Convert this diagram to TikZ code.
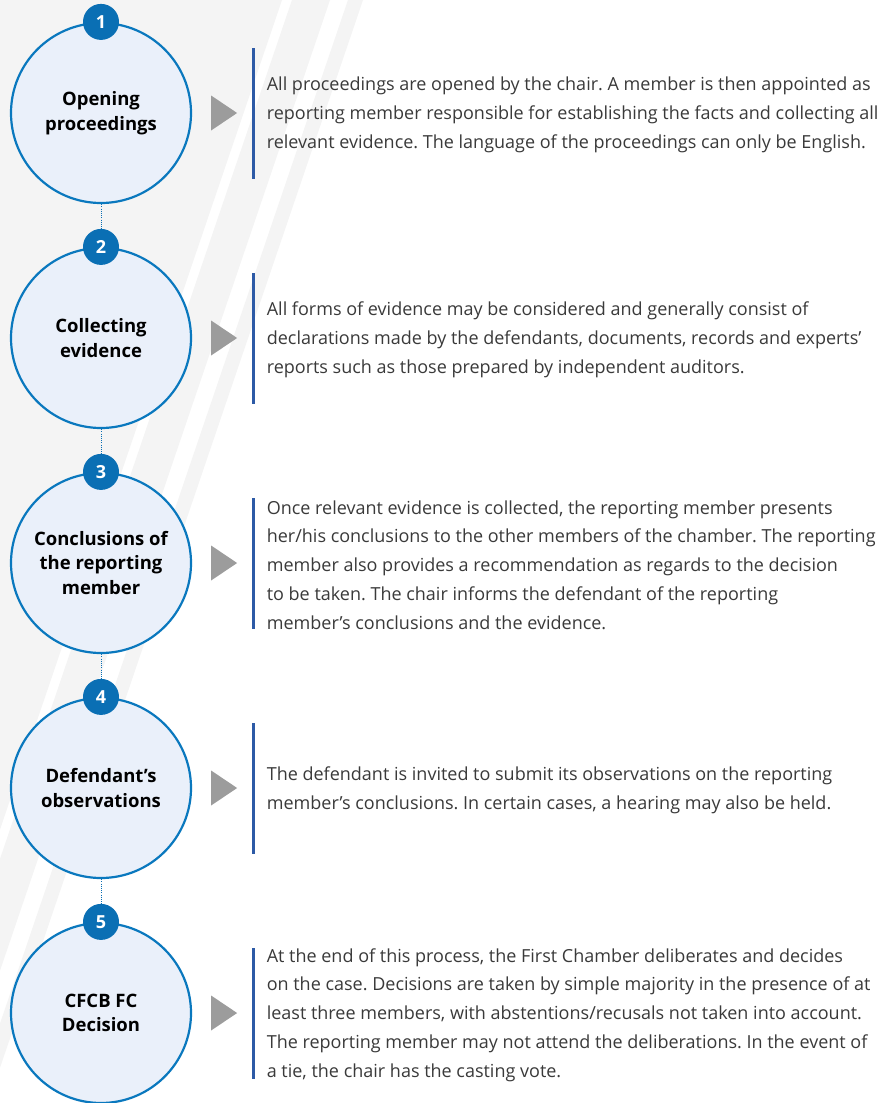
\documentclass[tikz,border=0pt]{standalone}
\usepackage{fontspec}
\setmainfont{Open Sans}
\frenchspacing
\usetikzlibrary{positioning}
\usetikzlibrary{shapes.geometric}
\definecolor{ringblue}{HTML}{0A78BE}
\definecolor{ringfill}{HTML}{EAF0FA}
\definecolor{badgeblue}{HTML}{0A6FB4}
\definecolor{barblue}{HTML}{2D5AA6}
\definecolor{tipgray}{HTML}{9C9C9C}
\definecolor{bggray}{HTML}{F4F4F4}
\definecolor{txtgray}{HTML}{3A3A3A}
\tikzset{
  stage/.style={draw=ringblue, line width=2.2pt, fill=ringfill, circle, minimum size=180pt, inner sep=0pt, align=center, font=\fontsize{18.5}{24.5}\selectfont\bfseries},
  badge/.style={circle, fill=badgeblue, text=white, minimum size=36pt, inner sep=0pt, font=\fontsize{18}{20}\selectfont\bfseries},
  tip/.style={isosceles triangle, isosceles triangle stretches, fill=tipgray, minimum width=35pt, minimum height=26pt, inner sep=0pt, outer sep=0pt},
  bar/.style={rectangle, fill=barblue, minimum width=2.5pt, minimum height=131pt, inner sep=0pt, outer sep=0pt},
  desc/.style={align=left, inner sep=0pt, text=txtgray, yshift=-2pt, font=\fontsize{18}{28.8}\selectfont},
  link/.style={draw=badgeblue, line width=1pt, dash pattern=on 1pt off 1.2pt}
}

\begin{document}
\begin{tikzpicture}[x=1pt, y=-1pt]
    \useasboundingbox (0, 0) rectangle (890, 1103);
    \fill [white] (0, 0) rectangle (890, 1103);
    % slanted background bands
    \begin{scope}
        \clip (0, 0) rectangle (890, 1103);
        \fill [bggray] (-100, 0) -- (282, 0) -- (-93, 1103) -- (-100, 1103) -- cycle;
        \fill [bggray] (292, 0) -- (330, 0) -- (-45, 1103) -- (-83, 1103) -- cycle;
        \fill [bggray] (348, 0) -- (363, 0) -- (-12, 1103) -- (-27, 1103) -- cycle;
    \end{scope}

    \node [stage] (opening) at (101, 113) {Opening\\proceedings};
    \node [stage, below=42.8pt of opening] (collect) {Collecting\\evidence};
    \node [stage, below=42.8pt of collect] (concl) {Conclusions of\\the reporting\\member};
    \node [stage, below=42.8pt of concl] (observ) {Defendant’s\\observations};
    \node [stage, below=42.8pt of observ] (decision) {CFCB FC\\Decision};

    \node [badge] (num1) at (opening.north) {1};
    \node [badge] (num2) at (collect.north) {2};
    \node [badge] (num3) at (concl.north) {3};
    \node [badge] (num4) at (observ.north) {4};
    \node [badge] (num5) at (decision.north) {5};

    \draw [link] (opening.south) -- (num2.north);
    \draw [link] (collect.south) -- (num3.north);
    \draw [link] (concl.south) -- (num4.north);
    \draw [link] (observ.south) -- (num5.north);

    \node [tip, right=19pt of opening] (tip1) {};
    \node [tip, right=19pt of collect] (tip2) {};
    \node [tip, right=19pt of concl] (tip3) {};
    \node [tip, right=19pt of observ] (tip4) {};
    \node [tip, right=19pt of decision] (tip5) {};

    \node [bar, right=15pt of tip1] (bar1) {};
    \node [bar, right=15pt of tip2] (bar2) {};
    \node [bar, right=15pt of tip3] (bar3) {};
    \node [bar, right=15pt of tip4] (bar4) {};
    \node [bar, right=15pt of tip5] (bar5) {};

    \node [desc, right=12pt of bar1] (text1) {All proceedings are opened by the chair. A member is then appointed as\\reporting member responsible for establishing the facts and collecting all\\relevant evidence. The language of the proceedings can only be English.};
    \node [desc, right=12pt of bar2] (text2) {All forms of evidence may be considered and generally consist of\\declarations made by the defendants, documents, records and experts’\\reports such as those prepared by independent auditors.};
    \node [desc, right=12pt of bar3] (text3) {Once relevant evidence is collected, the reporting member presents\\her/his conclusions to the other members of the chamber. The reporting\\member also provides a recommendation as regards to the decision\\to be taken. The chair informs the defendant of the reporting\\member’s conclusions and the evidence.};
    \node [desc, right=12pt of bar4] (text4) {The defendant is invited to submit its observations on the reporting\\member’s conclusions. In certain cases, a hearing may also be held.};
    \node [desc, right=12pt of bar5] (text5) {At the end of this process, the First Chamber deliberates and decides\\on the case. Decisions are taken by simple majority in the presence of at\\least three members, with abstentions/recusals not taken into account.\\The reporting member may not attend the deliberations. In the event of\\a tie, the chair has the casting vote.};
\end{tikzpicture}
\end{document}
